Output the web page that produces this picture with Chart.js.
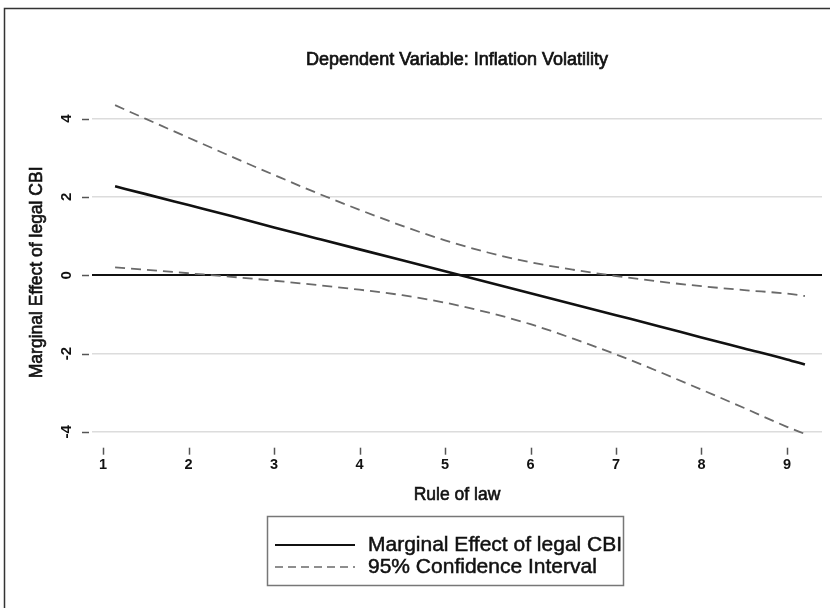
<!DOCTYPE html>
<html><head><meta charset="utf-8">
<script src="https://cdn.jsdelivr.net/npm/chart.js@4.4.1/dist/chart.umd.min.js"></script>
<style>html,body{margin:0;padding:0;background:#fff;} #wrap{position:relative;width:830px;height:608px;} canvas{display:block;}</style>
</head><body><div id="wrap"><canvas id="c" width="830" height="608"></canvas></div>
<script>
const ruleOfLaw      = [1.14, 1.5, 2, 2.5, 3, 3.5, 4, 4.5, 5, 5.5, 6, 6.5, 7, 7.5, 8, 8.5, 9, 9.21];
const marginalEffect = [2.27, 2.07, 1.79, 1.51, 1.22, 0.94, 0.66, 0.38, 0.10, -0.18, -0.46, -0.74, -1.02, -1.30, -1.59, -1.87, -2.15, -2.28];
const ciUpper        = [4.34, 3.99, 3.51, 3.03, 2.56, 2.10, 1.67, 1.26, 0.89, 0.58, 0.33, 0.14, -0.02, -0.16, -0.28, -0.38, -0.47, -0.53];
const ciLower        = [0.20, 0.14, 0.05, -0.04, -0.14, -0.25, -0.37, -0.51, -0.70, -0.95, -1.25, -1.62, -2.02, -2.46, -2.92, -3.39, -3.87, -4.05];
const xTicks = [1, 2, 3, 4, 5, 6, 7, 8, 9];
const yTicks = [-4, -2, 0, 2, 4];
const chartTitle = 'Dependent Variable: Inflation Volatility';
const xTitle = 'Rule of law';
const yTitle = 'Marginal Effect of legal CBI';
const legendLabels = ['Marginal Effect of legal CBI', '95% Confidence Interval'];

const FONT = "'Liberation Sans', Arial, Helvetica, sans-serif";
const pts = ys => ruleOfLaw.map((x, i) => ({x: x, y: ys[i]}));

function heavyText(ctx, text, x, y, w) {
  ctx.lineWidth = w; ctx.strokeStyle = ctx.fillStyle;
  ctx.strokeText(text, x, y);
  ctx.fillText(text, x, y);
}

const decor = {
  id: 'decor',
  afterDraw(chart) {
    const ctx = chart.ctx, ca = chart.chartArea;
    const xs = chart.scales.x, ysc = chart.scales.y;
    ctx.save();
    // frame
    ctx.strokeStyle = '#333'; ctx.lineWidth = 1.5;
    ctx.beginPath(); ctx.moveTo(4.5, 608); ctx.lineTo(4.5, 8.5); ctx.lineTo(830, 8.5); ctx.stroke();
    // title
    ctx.fillStyle = '#111'; ctx.font = '18px ' + FONT;
    ctx.textAlign = 'center'; ctx.textBaseline = 'middle';
    heavyText(ctx, chartTitle, (ca.left + ca.right) / 2, 60, 0.7);
    // axis titles
    ctx.font = '17.5px ' + FONT;
    heavyText(ctx, xTitle, (ca.left + ca.right) / 2, 495, 0.6);
    ctx.save();
    ctx.translate(37, (ca.top + ca.bottom) / 2 + 3);
    ctx.rotate(-Math.PI / 2);
    heavyText(ctx, yTitle, 0, 0, 0.6);
    ctx.restore();
    // tick marks
    ctx.strokeStyle = '#555'; ctx.lineWidth = 1.5;
    yTicks.forEach(v => {
      const py = Math.round(ysc.getPixelForValue(v)) + 0.5;
      ctx.beginPath(); ctx.moveTo(ca.left - 10, py); ctx.lineTo(ca.left - 3, py); ctx.stroke();
    });
    xTicks.forEach(v => {
      const px = Math.round(xs.getPixelForValue(v)) + 0.5;
      ctx.beginPath(); ctx.moveTo(px, ca.bottom + 4); ctx.lineTo(px, ca.bottom + 11); ctx.stroke();
    });
    // legend
    const bx = 267.5, by = 516.5, bw = 356, bh = 69;
    ctx.strokeStyle = '#777'; ctx.lineWidth = 1.5;
    ctx.strokeRect(bx, by, bw, bh);
    const rows = [545, 567];
    const ds = chart.data.datasets;
    [0, 1].forEach(i => {
      const d = ds[i];
      ctx.strokeStyle = d.borderColor; ctx.lineWidth = i === 0 ? 2 : 1.5;
      ctx.setLineDash(i === 0 ? [] : [8, 5]);
      ctx.beginPath(); ctx.moveTo(275, rows[i]); ctx.lineTo(355, rows[i]); ctx.stroke();
      ctx.setLineDash([]);
      ctx.fillStyle = '#111'; ctx.font = '21px ' + FONT;
      ctx.textAlign = 'left'; ctx.textBaseline = 'middle';
      heavyText(ctx, legendLabels[i], 368, rows[i], 0.5);
    });
    ctx.restore();
  }
};

new Chart(document.getElementById('c'), {
  type: 'scatter',
  data: {
    datasets: [
      { label: legendLabels[0], data: pts(marginalEffect), showLine: true, borderColor: '#111', borderWidth: 2.6, pointRadius: 0, cubicInterpolationMode: 'monotone' },
      { label: legendLabels[1], data: pts(ciUpper), showLine: true, borderColor: '#6a6a6a', borderWidth: 1.8, borderDash: [10, 6], pointRadius: 0, cubicInterpolationMode: 'monotone' },
      { label: legendLabels[1] + ' (lower)', data: pts(ciLower), showLine: true, borderColor: '#6a6a6a', borderWidth: 1.8, borderDash: [10, 6], pointRadius: 0, cubicInterpolationMode: 'monotone' }
    ]
  },
  options: {
    responsive: false,
    devicePixelRatio: 1,
    animation: false,
    layout: { padding: { top: 95, right: 8, bottom: 99.3, left: 0 } },
    plugins: { legend: { display: false }, title: { display: false }, tooltip: { enabled: false } },
    scales: {
      x: {
        type: 'linear', min: 0.87, max: 9.41,
        afterBuildTicks: s => { s.ticks = xTicks.map(v => ({value: v})); },
        afterFit: s => { s.height = 65; },
        grid: { display: false, drawTicks: false },
        border: { display: false },
        ticks: { padding: 13, color: '#111', font: { family: FONT, size: 14.5, weight: 'bold' }, maxRotation: 0, callback: v => String(v) },
        title: { display: false }
      },
      y: {
        type: 'linear', min: -4.3, max: 4.6,
        afterBuildTicks: s => { s.ticks = yTicks.map(v => ({value: v})); },
        afterFit: s => { s.width = 92; },
        grid: { drawTicks: false, lineWidth: c => c.tick && c.tick.value === 0 ? 2 : 1.5, color: c => c.tick && c.tick.value === 0 ? '#111' : '#dcdcdc' },
        border: { display: false },
        ticks: { padding: 18, crossAlign: 'center', minRotation: 90, maxRotation: 90, color: '#111', font: { family: FONT, size: 15, weight: 'bold' }, callback: v => String(v) },
        title: { display: false }
      }
    }
  },
  plugins: [decor]
});
</script></body></html>
